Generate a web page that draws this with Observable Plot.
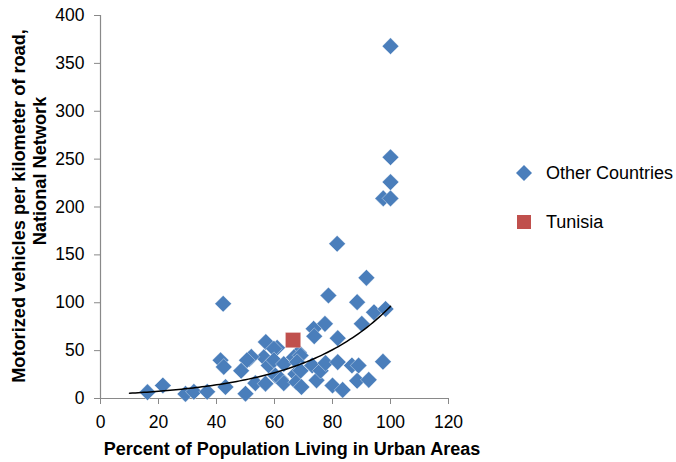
<!DOCTYPE html>
<html>
<head>
<meta charset="utf-8">
<script src="https://cdn.jsdelivr.net/npm/d3@7"></script>
<script src="https://cdn.jsdelivr.net/npm/@observablehq/plot@0.6"></script>
<style>
  html, body { margin: 0; padding: 0; background: #ffffff; }
  body { font-family: "Liberation Sans", Arial, Helvetica, sans-serif; }
  #wrap { position: relative; width: 676px; height: 462px; overflow: hidden; }
  #legend { position: absolute; left: 512px; top: 0; font-size: 18px; color: #000; }
  .item { position: absolute; left: 0; white-space: nowrap; display: flex; align-items: center; }
  .item svg { margin-right: 10px; }
</style>
</head>
<body>
<div id="wrap"><div id="legend"></div></div>
<script>
// ---- Data ----
const otherX = [100, 100, 100, 97.5, 100, 81.6, 91.7, 78.6, 88.5, 94.3, 98.3, 90.1, 77.4, 73.5, 73.7, 81.8,
  42.3, 57, 60.9, 59.8, 68.4, 66.7, 69, 56.3, 51.3, 52, 50.5, 48.5, 41.4, 42.5, 43.1, 50, 53.4, 56.9, 58,
  59.8, 60.3, 62.2, 63.2, 63.2, 67.2, 67.5, 67.8, 69.3, 69, 73, 74.5, 75.9, 77.6, 80, 81.8, 83.5, 86.7,
  89, 88.5, 92.5, 97.4, 16.2, 21.5, 29.3, 32.2, 36.8];
const otherY = [368, 252, 226, 209, 209, 161.6, 126, 107.6, 100.6, 90, 93.5, 78, 78, 72.8, 65, 63,
  99, 59, 53, 52, 48, 43, 45, 43, 41.4, 43.5, 40, 29, 40, 33, 12, 5, 16, 15.5, 34.5,
  40, 24, 20, 16, 36, 25.5, 17, 38, 12, 29, 34.5, 19, 29, 37, 13.6, 38, 9, 34.5,
  34.5, 18.5, 19.5, 38.5, 6.6, 13.6, 4.8, 7, 7];
const tunisiaX = [66.4];
const tunisiaY = [61];
const xTicks = [0, 20, 40, 60, 80, 100, 120];
const yTicks = [0, 50, 100, 150, 200, 250, 300, 350, 400];
const seriesNames = ["Other Countries", "Tunisia"];
// Exponential trendline (y = a * e^(b x)) as shown in the chart
const trendA = 4.0;
const trendB = 0.0318;
const trendFrom = 10;
const trendTo = 100;

// ---- Build tables ----
const others = otherX.map((x, i) => ({x, y: otherY[i]}));
const tunisia = tunisiaX.map((x, i) => ({x, y: tunisiaY[i]}));
const trend = d3.range(trendFrom, trendTo + 0.5, 1).map(x => ({x, y: trendA * Math.exp(trendB * x)}));

const BLUE = "#4a7ebb";
const RED = "#c0504d";
const GRAY = "#898989";

const chart = Plot.plot({
  width: 676,
  height: 462,
  marginLeft: 100,
  marginRight: 228,
  marginTop: 15,
  marginBottom: 64,
  style: {fontFamily: "'Liberation Sans', Arial, sans-serif", fontSize: "17px", color: "#000", background: "#fff"},
  x: {domain: [0, 120], label: null},
  y: {domain: [0, 400], label: null},
  marks: [
    Plot.axisX({ticks: xTicks, tickSize: 6, tickPadding: 11, stroke: GRAY, fill: "#000", fontSize: 17.5, label: null}),
    Plot.axisY({ticks: yTicks, tickSize: 6, tickPadding: 10, stroke: GRAY, fill: "#000", fontSize: 17.5, label: null}),
    Plot.ruleY([0], {stroke: GRAY, strokeWidth: 1.2}),
    Plot.ruleX([0], {stroke: GRAY, strokeWidth: 1.2}),
    Plot.dot(others, {x: "x", y: "y", symbol: "diamond2", r: 7.5, fill: BLUE, stroke: "#ffffff", strokeOpacity: 0.55, strokeWidth: 0.7}),
    Plot.dot(tunisia, {x: "x", y: "y", symbol: "square", r: 8.6, fill: RED, stroke: "#ffffff", strokeOpacity: 0.5, strokeWidth: 0.6}),
    Plot.line(trend, {x: "x", y: "y", stroke: "#000", strokeWidth: 1.5})
  ]
});

const svg = d3.select(chart);
// Y axis title (two lines)
const yTitle = svg.append("g")
  .attr("font-family", "'Liberation Sans', Arial, sans-serif")
  .attr("font-weight", "bold")
  .attr("font-size", "18.2px")
  .attr("fill", "#000")
  .attr("text-anchor", "middle");
yTitle.append("text").attr("transform", "translate(25,206) rotate(-90)").text("Motorized vehicles per kilometer of road,");
yTitle.append("text").attr("transform", "translate(46,171) rotate(-90)").text("National Network");
// X axis title
svg.append("text")
  .attr("x", 292).attr("y", 455)
  .attr("font-family", "'Liberation Sans', Arial, sans-serif")
  .attr("font-weight", "bold")
  .attr("font-size", "18px")
  .attr("fill", "#000")
  .attr("text-anchor", "middle")
  .text("Percent of Population Living in Urban Areas");

const wrap = document.getElementById("wrap");
wrap.insertBefore(chart, wrap.firstChild);
chart.style.position = "absolute";
chart.style.left = "0";
chart.style.top = "0";

// Legend
const legend = document.getElementById("legend");
const legendItems = [
  {name: seriesNames[0], color: BLUE, shape: "diamond", cy: 173},
  {name: seriesNames[1], color: RED, shape: "square", cy: 222}
];
for (const it of legendItems) {
  const div = document.createElement("div");
  div.className = "item";
  div.style.top = (it.cy - 12) + "px";
  div.style.height = "24px";
  const shape = it.shape === "diamond"
    ? `<polygon points="12,4 20,12 12,20 4,12" fill="${it.color}"/>`
    : `<rect x="5" y="5" width="14" height="14" fill="${it.color}"/>`;
  div.innerHTML = `<svg width="24" height="24">${shape}</svg><span>${it.name}</span>`;
  legend.appendChild(div);
}
</script>
</body>
</html>
